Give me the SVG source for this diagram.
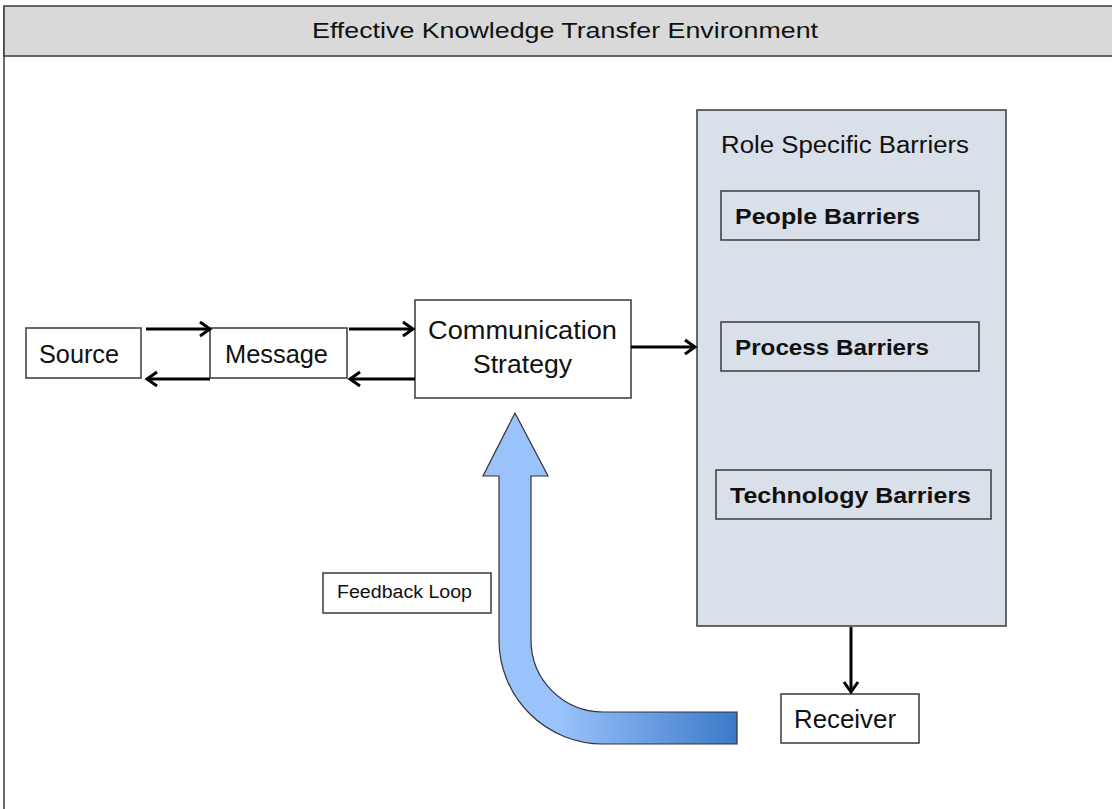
<svg xmlns="http://www.w3.org/2000/svg" width="1112" height="809" viewBox="0 0 1112 809">
<style>
.box{fill:#fff;stroke:#3a3a3a;stroke-width:1.5}
.inner{fill:#d9e0e9;stroke:#3a3a3a;stroke-width:1.5}
.t{font-family:"Liberation Sans",Arial,sans-serif;fill:#111}
.b{font-weight:bold}
.con{stroke:#000;stroke-width:3;fill:none}
</style>
<defs>
<marker id="ah" markerUnits="userSpaceOnUse" markerWidth="18" markerHeight="20" viewBox="0 0 18 20" refX="15" refY="10" orient="auto">
<path d="M5,3 L15,10 L5,17" fill="none" stroke="#000" stroke-width="3"/>
</marker>
<linearGradient id="fb" gradientUnits="userSpaceOnUse" x1="560" y1="0" x2="737" y2="0">
<stop offset="0" stop-color="#9ac2fb"/>
<stop offset="1" stop-color="#3b79c9"/>
</linearGradient>
</defs>
<rect x="0" y="0" width="1112" height="809" fill="#fff"/>
<g id="frame">
<line x1="4" y1="6" x2="4" y2="809" stroke="#3a3a3a" stroke-width="1.5"/>
<rect x="4" y="6" width="1120" height="50" fill="#d9d9d9" stroke="#3a3a3a" stroke-width="1.5"/>
<text class="t" x="565" y="38" font-size="22" text-anchor="middle" textLength="506" lengthAdjust="spacingAndGlyphs">Effective Knowledge Transfer Environment</text>
</g>
<g id="source">
<rect class="box" x="26" y="328" width="115" height="50"/>
<text class="t" x="39" y="363" font-size="25" textLength="80" lengthAdjust="spacingAndGlyphs">Source</text>
</g>
<g id="message">
<rect class="box" x="210" y="328" width="137" height="50"/>
<text class="t" x="225" y="363" font-size="25" textLength="103" lengthAdjust="spacingAndGlyphs">Message</text>
</g>
<g id="communication">
<rect class="box" x="415" y="300" width="216" height="98"/>
<text class="t" x="428" y="339" font-size="25" textLength="189" lengthAdjust="spacingAndGlyphs">Communication</text>
<text class="t" x="473" y="373" font-size="25" textLength="99" lengthAdjust="spacingAndGlyphs">Strategy</text>
</g>
<g id="barriers">
<rect class="inner" x="697" y="110" width="309" height="516"/>
<text class="t" x="721" y="153" font-size="23" textLength="248" lengthAdjust="spacingAndGlyphs">Role Specific Barriers</text>
</g>
<g id="people">
<rect class="inner" x="721" y="191" width="258" height="49"/>
<text class="t b" x="735" y="224" font-size="22" textLength="185" lengthAdjust="spacingAndGlyphs">People Barriers</text>
</g>
<g id="process">
<rect class="inner" x="721" y="322" width="258" height="49"/>
<text class="t b" x="735" y="355" font-size="22" textLength="194" lengthAdjust="spacingAndGlyphs">Process Barriers</text>
</g>
<g id="technology">
<rect class="inner" x="716" y="470" width="275" height="49"/>
<text class="t b" x="730" y="503" font-size="22" textLength="241" lengthAdjust="spacingAndGlyphs">Technology Barriers</text>
</g>
<g id="receiver">
<rect class="box" x="781" y="694" width="138" height="49"/>
<text class="t" x="794" y="728" font-size="25" textLength="102" lengthAdjust="spacingAndGlyphs">Receiver</text>
</g>
<g id="feedback-label">
<rect class="box" x="323" y="573" width="168" height="40" stroke-width="1.2"/>
<text class="t" x="337" y="598" font-size="18" textLength="135" lengthAdjust="spacingAndGlyphs">Feedback Loop</text>
</g>
<g id="connectors">
<line class="con" x1="146" y1="329" x2="210" y2="329" marker-end="url(#ah)"/>
<line class="con" x1="210" y1="379" x2="147" y2="379" marker-end="url(#ah)"/>
<line class="con" x1="349" y1="329" x2="413" y2="329" marker-end="url(#ah)"/>
<line class="con" x1="415" y1="379" x2="350" y2="379" marker-end="url(#ah)"/>
<line class="con" x1="631" y1="347" x2="695" y2="347" marker-end="url(#ah)"/>
<line class="con" x1="851" y1="627" x2="851" y2="692" marker-end="url(#ah)"/>
</g>
<g id="feedback-arrow">
<path d="M515,413 L548,476 L531,476 L531,640 A72,72 0 0 0 603,712 L737,712 L737,744 L603,744 A104,104 0 0 1 499,640 L499,476 L483,476 Z" fill="url(#fb)" stroke="#333" stroke-width="1.2" stroke-linejoin="miter"/>
</g>
</svg>
